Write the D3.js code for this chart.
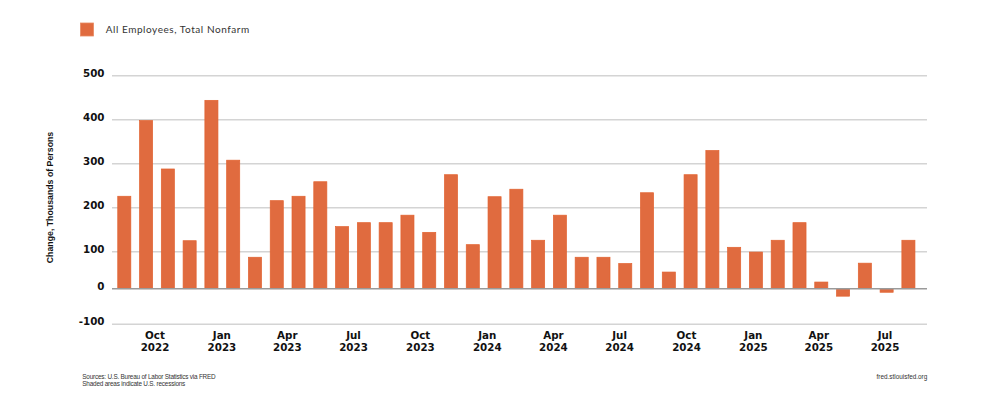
<!DOCTYPE html>
<html>

<head>
  <meta charset="utf-8">
  <title>All Employees, Total Nonfarm</title>
  <style>
  body{
    margin: 0;
    background: #fff;
  }
  </style>
</head>

<body>
  <svg width="1000" height="409"></svg>
  <script src="https://d3js.org/d3.v7.min.js"></script>
  <script>
    // monthly change, thousands of persons (Sep 2022 - Sep 2025)
    var months = ["2022-09", "2022-10", "2022-11", "2022-12",
      "2023-01", "2023-02", "2023-03", "2023-04", "2023-05", "2023-06",
      "2023-07", "2023-08", "2023-09", "2023-10", "2023-11", "2023-12",
      "2024-01", "2024-02", "2024-03", "2024-04", "2024-05", "2024-06",
      "2024-07", "2024-08", "2024-09", "2024-10", "2024-11", "2024-12",
      "2025-01", "2025-02", "2025-03", "2025-04", "2025-05", "2025-06",
      "2025-07", "2025-08", "2025-09"];
    var changes = [226, 398, 288, 125,
      444, 308, 85, 216, 226, 259,
      157, 166, 166, 183, 144, 275,
      116, 225, 242, 126, 183, 85,
      85, 68, 234, 45, 275, 330,
      110, 99, 126, 166, 18, -21,
      69, -10, 126];
    var xTicks = ["2022-10", "2023-01", "2023-04", "2023-07", "2023-10", "2024-01",
      "2024-04", "2024-07", "2024-10", "2025-01", "2025-04", "2025-07"];
    var yTicks = [-100, 0, 100, 200, 300, 400, 500];
    var seriesName = "All Employees, Total Nonfarm";
    var yTitle = "Change, Thousands of Persons";
    var sourceLines = ["Sources: U.S. Bureau of Labor Statistics via FRED", "Shaded areas indicate U.S. recessions"];
    var siteText = "fred.stlouisfed.org";

    var parseMonth = d3.timeParse("%Y-%m");
    var barColor = "#e06b3f";
    var left = 112, right = 927;

    var svg = d3.select("svg");

    var xBand = d3.scaleBand().domain(months).range([113.4, 919.3])
      .paddingInner(0.4).paddingOuter(0.2);
    var xTime = d3.scaleTime()
      .domain([parseMonth("2022-10"), parseMonth("2025-07")])
      .range([155, 885]);
    // the picture's axis is squeezed below 100, so piecewise
    var yScale = d3.scaleLinear()
      .domain([-100, 0, 100, 500])
      .range([324.3, 288.7, 251.7, 75.7]);

    // legend
    svg.append("rect")
      .attr("x", 80.5).attr("y", 23)
      .attr("width", 13).attr("height", 13)
      .attr("fill", barColor)
      .attr("stroke", "#e88a62").attr("stroke-width", 0.8);
    svg.append("text")
      .attr("x", 105.7).attr("y", 33.3)
      .attr("font-family", "Lato, sans-serif")
      .attr("font-size", 10)
      .attr("fill", "#333")
      .attr("textLength", 143.5)
      .text(seriesName);

    // grid
    svg.append("g").selectAll("line")
      .data(yTicks.filter(d => d !== 0))
      .join("line")
      .attr("x1", left).attr("x2", right)
      .attr("y1", d => yScale(d)).attr("y2", d => yScale(d))
      .attr("stroke", "#d4d4d4")
      .attr("stroke-width", 1.4);

    svg.append("g").selectAll("text")
      .data(yTicks)
      .join("text")
      .attr("x", 104.5)
      .attr("y", d => yScale(d) + 1)
      .attr("text-anchor", "end")
      .attr("font-family", "'DejaVu Sans', sans-serif")
      .attr("font-weight", "bold")
      .attr("font-size", 10.3)
      .attr("fill", "#111")
      .text(d => d);

    // bars
    svg.append("g").selectAll("rect")
      .data(months)
      .join("rect")
      .attr("x", d => xBand(d))
      .attr("width", xBand.bandwidth())
      .attr("y", (d, i) => yScale(Math.max(0, changes[i])))
      .attr("height", (d, i) => Math.abs(yScale(changes[i]) - yScale(0)))
      .attr("fill", barColor)
      .attr("stroke", "#e2622f")
      .attr("stroke-width", 0.7);

    // zero line
    svg.append("line")
      .attr("x1", left).attr("x2", right)
      .attr("y1", yScale(0)).attr("y2", yScale(0))
      .attr("stroke", "#9a9a9a")
      .attr("stroke-width", 1.4);

    // x labels
    var xl = svg.append("g").selectAll("text")
      .data(xTicks)
      .join("text")
      .attr("text-anchor", "middle")
      .attr("font-family", "'DejaVu Sans', sans-serif")
      .attr("font-weight", "bold")
      .attr("font-size", 10.3)
      .attr("fill", "#111");
    xl.append("tspan")
      .attr("x", d => xTime(parseMonth(d)))
      .attr("y", 339.3)
      .text(d => d3.timeFormat("%b")(parseMonth(d)));
    xl.append("tspan")
      .attr("x", d => xTime(parseMonth(d)))
      .attr("y", 351.2)
      .text(d => d3.timeFormat("%Y")(parseMonth(d)));

    // y title
    svg.append("text")
      .attr("transform", "translate(53,197.5) rotate(-90)")
      .attr("text-anchor", "middle")
      .attr("font-family", "'Liberation Sans', Arial, sans-serif")
      .attr("font-weight", "bold")
      .attr("font-size", 8.8)
      .attr("fill", "#111")
      .attr("textLength", 131.5)
      .text(yTitle);

    // footer
    var footWidths = [133.4, 103];
    svg.append("g").selectAll("text")
      .data(sourceLines)
      .join("text")
      .attr("x", 82.3)
      .attr("y", (d, i) => 379 + i * 6.6)
      .attr("font-family", "'Liberation Sans Narrow', 'Liberation Sans', sans-serif")
      .attr("font-size", 6.4)
      .attr("fill", "#333")
      .attr("textLength", (d, i) => footWidths[i])
      .text(d => d);
    svg.append("text")
      .attr("x", 927.3).attr("y", 379)
      .attr("text-anchor", "end")
      .attr("font-family", "'Liberation Sans Narrow', 'Liberation Sans', sans-serif")
      .attr("font-size", 6.4)
      .attr("fill", "#333")
      .text(siteText);
  </script>

</body>

</html>
